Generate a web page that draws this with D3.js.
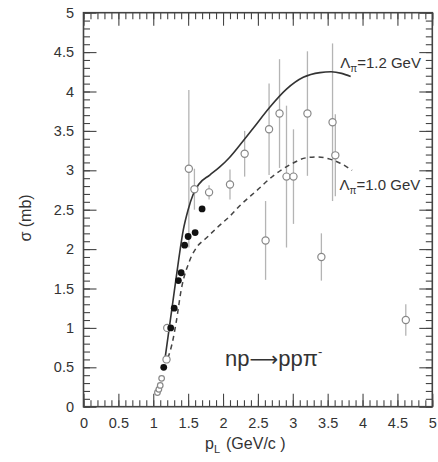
<!DOCTYPE html>
<html>
<head>
<meta charset="utf-8">
<script src="https://cdn.jsdelivr.net/npm/d3@7"></script>
<style>
  body { margin: 0; background: #fff; }
  text { font-family: 'Liberation Sans', Arial, Helvetica, sans-serif; fill: #333; }
</style>
</head>
<body>
<div id="chart"></div>
<script>
// open circles (with error bars)
var openP = [1.06, 1.08, 1.10, 1.12, 1.19, 1.20, 1.51, 1.59, 1.80, 2.10, 2.31, 2.61, 2.66, 2.81, 2.91, 3.01, 3.21, 3.41, 3.57, 3.61, 4.62]
var openSigma = [0.18, 0.22, 0.27, 0.36, 0.60, 1.00, 3.02, 2.76, 2.72, 2.82, 3.21, 2.11, 3.52, 3.72, 2.92, 2.92, 3.72, 1.90, 3.61, 3.19, 1.10]
var openErr = [0, 0, 0, 0, 0, 0, 1.0, 0.26, 0.09, 0.19, 0.29, 0.5, 0.58, 0.69, 0.9, 0.6, 0.79, 0.3, 1.0, 0.52, 0.2]

// filled circles
var filledP = [1.15, 1.25, 1.30, 1.36, 1.40, 1.45, 1.50, 1.60, 1.70]
var filledSigma = [0.50, 1.00, 1.25, 1.60, 1.70, 2.05, 2.16, 2.21, 2.51]

// model curves
var curve12P = [1.17, 1.27, 1.365, 1.43, 1.50, 1.57, 1.65, 1.81, 1.95, 2.09, 2.25, 2.43, 2.67, 2.91, 3.15, 3.39, 3.55, 3.70, 3.83]
var curve12Sigma = [0.62, 1.26, 1.87, 2.24, 2.50, 2.69, 2.82, 2.94, 3.04, 3.16, 3.33, 3.53, 3.80, 4.03, 4.18, 4.24, 4.25, 4.23, 4.19]
var curve10P = [1.21, 1.27, 1.33, 1.40, 1.52, 1.62, 1.76, 1.90, 2.10, 2.24, 2.48, 2.72, 2.96, 3.20, 3.35, 3.50, 3.68, 3.85]
var curve10Sigma = [0.62, 0.80, 1.08, 1.48, 1.85, 2.02, 2.14, 2.26, 2.42, 2.55, 2.74, 2.93, 3.07, 3.16, 3.17, 3.15, 3.09, 3.00]

var majorTicks = [0, 0.5, 1, 1.5, 2, 2.5, 3, 3.5, 4, 4.5, 5]
var minorTicks = d3.range(0, 51).map(d => d / 10)

var width = 438
var height = 462

var svg = d3
  .select('#chart')
  .append('svg')
  .attr('width', width)
  .attr('height', height)

var xScale = d3.scaleLinear().domain([0, 5]).range([83.5, 432.3])
var yScale = d3.scaleLinear().domain([0, 5]).range([406.7, 12.7])

var frameColor = '#444'

// frame
svg
  .append('rect')
  .attr('x', xScale(0))
  .attr('y', yScale(5))
  .attr('width', xScale(5) - xScale(0))
  .attr('height', yScale(0) - yScale(5))
  .attr('fill', 'none')
  .attr('stroke', frameColor)
  .attr('stroke-width', 1.6)

function drawAxis(axis, tx, ty, labels) {
  var g = svg
    .append('g')
    .attr('transform', 'translate(' + tx + ',' + ty + ')')
    .call(axis)
  g.select('.domain').remove()
  g.selectAll('line').attr('stroke', frameColor).attr('stroke-width', 1.1)
  if (!labels) g.selectAll('text').remove()
  else g.selectAll('text').attr('font-size', 14.5).attr('fill', '#333')
  return g
}

var fmt = d => d
// minor ticks on four sides
drawAxis(d3.axisBottom(xScale).tickValues(minorTicks).tickSize(-6.5), 0, yScale(0), false)
drawAxis(d3.axisTop(xScale).tickValues(minorTicks).tickSize(-6.5), 0, yScale(5), false)
drawAxis(d3.axisLeft(yScale).tickValues(minorTicks).tickSize(-6.5), xScale(0), 0, false)
drawAxis(d3.axisRight(yScale).tickValues(minorTicks).tickSize(-6.5), xScale(5), 0, false)
// major ticks
drawAxis(d3.axisBottom(xScale).tickValues(majorTicks).tickSize(-13).tickPadding(11).tickFormat(fmt), 0, yScale(0), true)
drawAxis(d3.axisTop(xScale).tickValues(majorTicks).tickSize(-13), 0, yScale(5), false)
drawAxis(d3.axisLeft(yScale).tickValues(majorTicks).tickSize(-13).tickPadding(9.5).tickFormat(fmt), xScale(0), 0, true)
drawAxis(d3.axisRight(yScale).tickValues(majorTicks).tickSize(-13), xScale(5), 0, false)

// axis titles
var xTitle = svg
  .append('text')
  .attr('x', 205)
  .attr('y', 449)
  .attr('font-size', 16)
xTitle.append('tspan').text('p')
xTitle.append('tspan').attr('font-size', 11).attr('dy', 4).text('L')
xTitle.append('tspan').attr('dy', -4).attr('dx', 6).text('(GeV/c )')

svg
  .append('text')
  .attr('transform', 'translate(31,218) rotate(-90)')
  .attr('text-anchor', 'middle')
  .attr('font-size', 16)
  .text('σ (mb)')

// error bars
var openData = openP.map((p, i) => ({ p: p, s: openSigma[i], e: openErr[i] }))

svg
  .selectAll('.err')
  .data(openData.filter(d => d.e > 0))
  .enter()
  .append('line')
  .attr('class', 'err')
  .attr('x1', d => xScale(d.p))
  .attr('x2', d => xScale(d.p))
  .attr('y1', d => yScale(d.s - d.e))
  .attr('y2', d => yScale(d.s + d.e))
  .attr('stroke', '#b4b4b4')
  .attr('stroke-width', 1.3)

// curves
var line = d3
  .line()
  .x(d => xScale(d[0]))
  .y(d => yScale(d[1]))
  .curve(d3.curveMonotoneX)

svg
  .append('path')
  .datum(curve12P.map((p, i) => [p, curve12Sigma[i]]))
  .attr('d', line)
  .attr('fill', 'none')
  .attr('stroke', '#333')
  .attr('stroke-width', 1.6)

svg
  .append('path')
  .datum(curve10P.map((p, i) => [p, curve10Sigma[i]]))
  .attr('d', line)
  .attr('fill', 'none')
  .attr('stroke', '#444')
  .attr('stroke-width', 1.5)
  .attr('stroke-dasharray', '5,4')

// points
svg
  .selectAll('.open')
  .data(openData)
  .enter()
  .append('circle')
  .attr('class', 'open')
  .attr('cx', d => xScale(d.p))
  .attr('cy', d => yScale(d.s))
  .attr('r', d => (d.s < 0.5 ? 2.8 : 3.6))
  .attr('fill', '#fff')
  .attr('stroke', '#888')
  .attr('stroke-width', 1.2)

svg
  .selectAll('.filled')
  .data(filledP)
  .enter()
  .append('circle')
  .attr('class', 'filled')
  .attr('cx', d => xScale(d))
  .attr('cy', (d, i) => yScale(filledSigma[i]))
  .attr('r', 3.4)
  .attr('fill', '#111')

// curve labels
function lambdaLabel(p, s, value) {
  var t = svg
    .append('text')
    .attr('x', xScale(p))
    .attr('y', yScale(s))
    .attr('font-size', 15)
  t.append('tspan').text('Λ')
  t.append('tspan').attr('font-size', 10).attr('dy', 4).text('π')
  t.append('tspan').attr('dy', -4).text('=' + value + ' GeV')
}
lambdaLabel(3.68, 4.30, '1.2')
lambdaLabel(3.67, 2.75, '1.0')

// reaction
var reac = svg
  .append('text')
  .attr('x', xScale(2.03))
  .attr('y', yScale(0.52))
  .attr('font-size', 22)
reac.append('tspan').text('np')
reac.append('tspan').attr('font-family', 'DejaVu Sans').attr('font-size', 20).text('⟶')
reac.append('tspan').text('ppπ')
reac.append('tspan').attr('font-size', 13).attr('dy', -10).text('-')
</script>
</body>
</html>
